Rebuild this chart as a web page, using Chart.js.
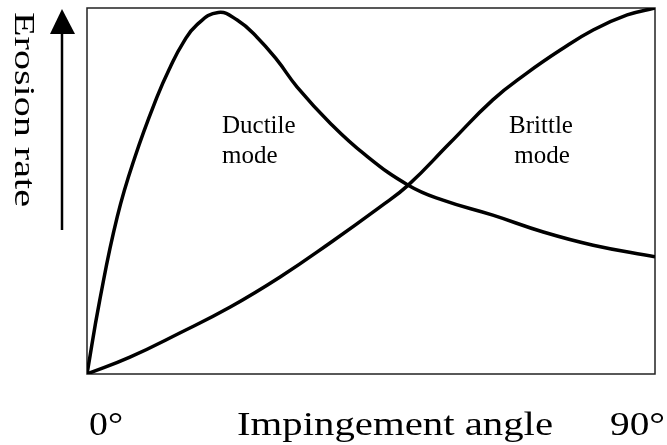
<!DOCTYPE html>
<html>
<head>
<meta charset="utf-8">
<script src="https://cdn.jsdelivr.net/npm/chart.js@4/dist/chart.umd.min.js"></script>
<style>
  html, body { margin: 0; padding: 0; background: #fff; }
  #wrap { width: 667px; height: 445px; position: relative; }
</style>
</head>
<body>
<div id="wrap"><canvas id="erosion-chart"></canvas></div>
<script>
// impingement angle (deg) vs relative erosion rate
const ductileAngle = [0, 2, 4.8, 7.6, 11.1, 13.2, 15.2, 17.4, 20.8, 23.8, 26.9, 30.1, 33.3, 38.5, 44, 50.9, 56.4, 64.3, 72.3, 80.2, 90];
const ductileRate = [0, 20, 43, 59.3, 75.7, 83.9, 90.4, 95.4, 98.8, 96.7, 92.1, 85.8, 78.4, 68.6, 60, 51.6, 47.5, 43.4, 38.8, 35.2, 32];
const brittleAngle = [0, 6.8, 14.7, 22.7, 30.6, 38.5, 46.4, 50.9, 57.5, 64.3, 69.7, 75, 80.2, 85.6, 90];
const brittleRate = [0, 4.6, 11.2, 18.3, 26.5, 35.8, 45.6, 51.6, 63.1, 74.9, 82.2, 88.5, 94, 98.1, 100];
const axisLabels = ["0°", "Impingement angle", "90°"];
const yLabel = "Erosion rate";

const toPoints = (xs, ys) => xs.map((x, i) => ({ x: x, y: ys[i] }));

// draws text squeezed/stretched to a given width
function fitText(ctx, text, x, y, width) {
  const w = ctx.measureText(text).width;
  ctx.save();
  ctx.translate(x, y);
  ctx.scale(width / w, 1);
  ctx.fillText(text, 0, 0);
  ctx.restore();
}

const sketchDecor = {
  id: "sketchDecor",
  beforeDatasetsDraw(chart) {
    const { ctx, chartArea: a } = chart;
    ctx.save();
    ctx.strokeStyle = "#222";
    ctx.lineWidth = 1.5;
    ctx.strokeRect(a.left, a.top, a.right - a.left, a.bottom - a.top);
    ctx.restore();
  },
  afterDraw(chart) {
    const { ctx } = chart;
    ctx.save();
    ctx.fillStyle = "#000";
    ctx.strokeStyle = "#000";

    // y label, rotated clockwise
    ctx.font = "30px 'Liberation Serif', 'Times New Roman', serif";
    ctx.textBaseline = "alphabetic";
    ctx.textAlign = "left";
    ctx.save();
    ctx.translate(15, 12);
    ctx.rotate(Math.PI / 2);
    fitText(ctx, yLabel, 0, 0, 195);
    ctx.restore();

    // arrow
    ctx.lineWidth = 2.5;
    ctx.beginPath();
    ctx.moveTo(62, 230);
    ctx.lineTo(62, 30);
    ctx.stroke();
    ctx.beginPath();
    ctx.moveTo(62, 9);
    ctx.lineTo(50, 34);
    ctx.lineTo(75, 34);
    ctx.closePath();
    ctx.fill();

    // x labels
    ctx.font = "34px 'Liberation Serif', 'Times New Roman', serif";
    fitText(ctx, axisLabels[0], 89, 435, 34);
    fitText(ctx, axisLabels[1], 237, 435, 316);
    fitText(ctx, axisLabels[2], 610, 435, 55);

    // mode notes
    ctx.font = "25px 'Liberation Serif', 'Times New Roman', serif";
    ctx.textAlign = "left";
    ctx.fillText("Ductile", 222, 133);
    ctx.fillText("mode", 222, 163);
    ctx.textAlign = "center";
    ctx.fillText("Brittle", 541, 133);
    ctx.fillText("mode", 542, 163);
    ctx.restore();
  }
};

const ctx = document.getElementById("erosion-chart").getContext("2d");
new Chart(ctx, {
  type: "line",
  data: {
    datasets: [
      {
        label: "Ductile mode",
        data: toPoints(ductileAngle, ductileRate),
        borderColor: "#000",
        borderWidth: 3.5,
        pointRadius: 0,
        tension: 0.45,
        fill: false,
      },
      {
        label: "Brittle mode",
        data: toPoints(brittleAngle, brittleRate),
        borderColor: "#000",
        borderWidth: 3.5,
        pointRadius: 0,
        tension: 0.45,
        fill: false,
      },
    ],
  },
  options: {
    responsive: true,
    maintainAspectRatio: false,
    animation: false,
    layout: { padding: { left: 87, right: 12, top: 8, bottom: 71 } },
    plugins: { legend: { display: false }, tooltip: { enabled: false } },
    scales: {
      x: { type: "linear", min: 0, max: 90, display: false },
      y: { min: 0, max: 100, display: false },
    },
  },
  plugins: [sketchDecor],
});
</script>
</body>
</html>
